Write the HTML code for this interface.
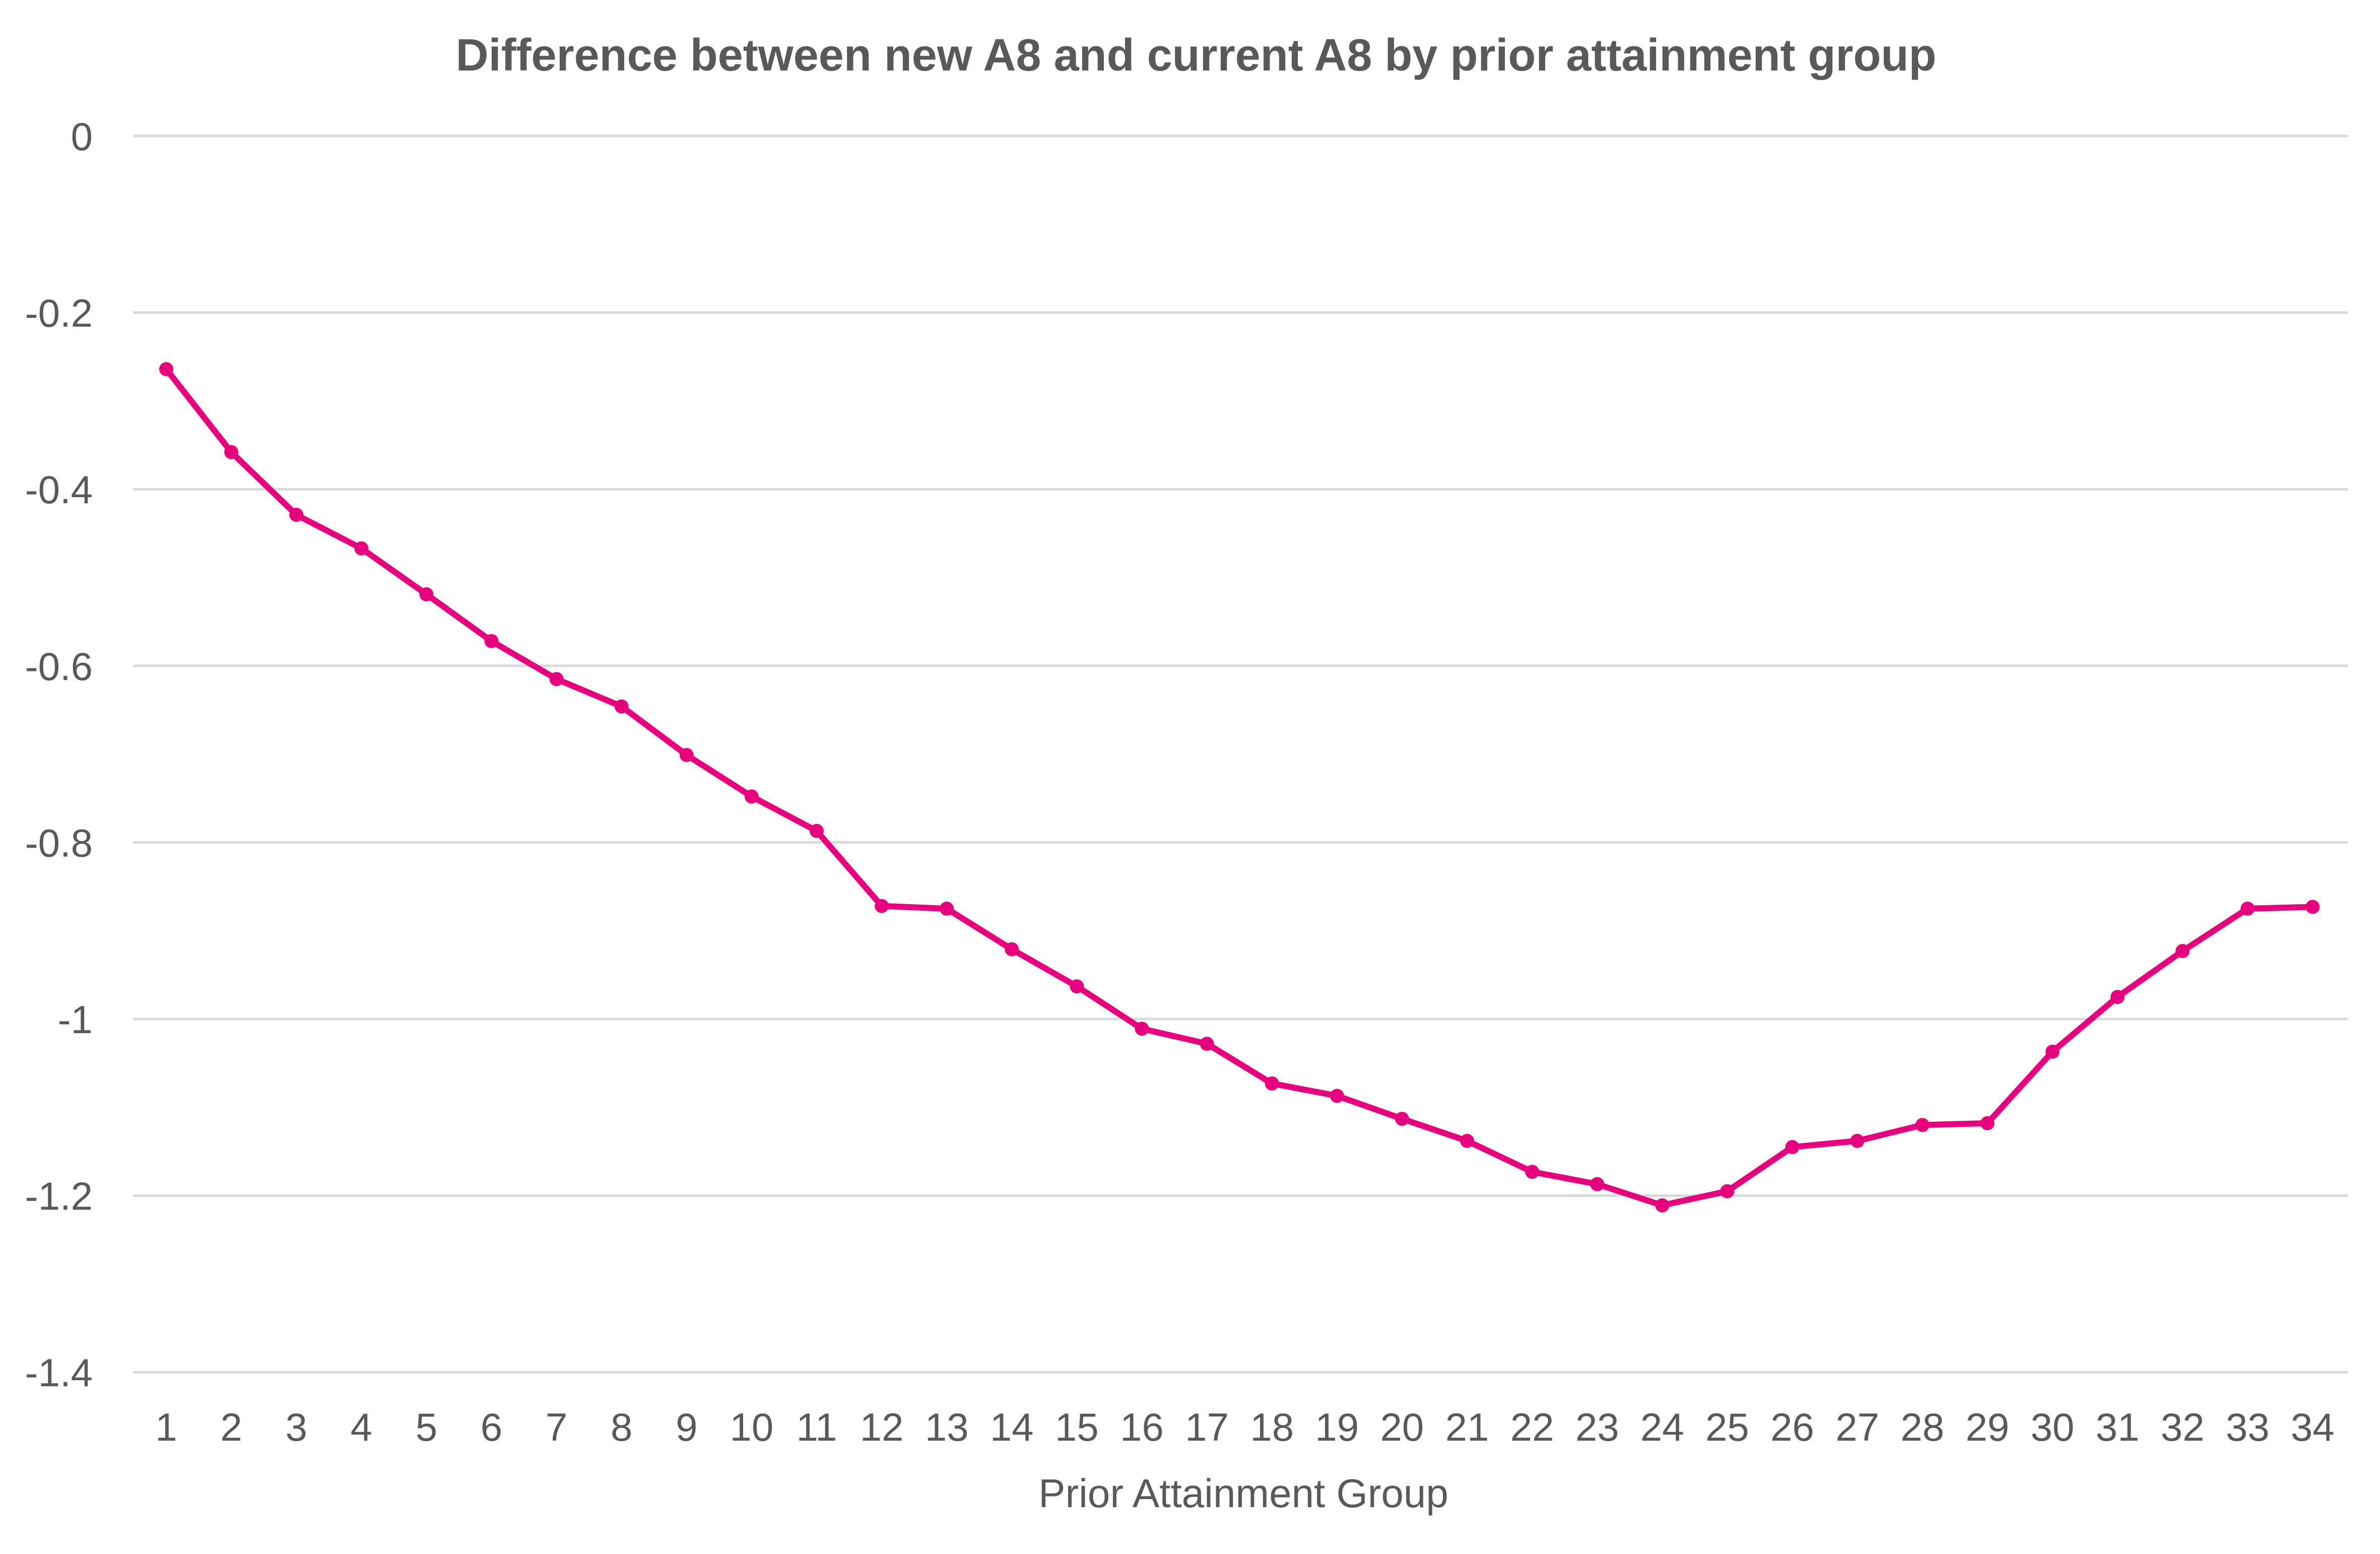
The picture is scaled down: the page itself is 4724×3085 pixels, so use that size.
<!DOCTYPE html>
<html><head><meta charset="utf-8"><style>
html,body{margin:0;padding:0;background:#fff;}
svg{display:block;}
text{font-family:"Liberation Sans",sans-serif;fill:#595959;}
</style></head><body>
<svg id="c" width="4724" height="3085" xmlns="http://www.w3.org/2000/svg">
<rect width="4724" height="3085" fill="#fff"/>
<text x="2374" y="140" font-size="90" font-weight="bold" text-anchor="middle">Difference between new A8 and current A8 by prior attainment group</text>
<text x="2468" y="2992" font-size="80" text-anchor="middle">Prior Attainment Group</text>
<g id="g"></g>
</svg>
<script>
var v=[-0.264,-0.358,-0.429,-0.467,-0.519,-0.572,-0.615,-0.646,-0.701,-0.748,-0.787,-0.872,-0.875,-0.921,-0.963,-1.011,-1.028,-1.073,-1.087,-1.113,-1.138,-1.173,-1.187,-1.211,-1.195,-1.145,-1.138,-1.120,-1.118,-1.037,-0.975,-0.923,-0.875,-0.873];
var ns="http://www.w3.org/2000/svg",g=document.getElementById("g");
function el(n,a,t){var e=document.createElementNS(ns,n);for(var k in a)e.setAttribute(k,a[k]);if(t!=null)e.textContent=t;g.appendChild(e);return e;}
var labs=["0","-0.2","-0.4","-0.6","-0.8","-1","-1.2","-1.4"];
for(var i=0;i<8;i++){var y=270+i*350.6;
el("line",{x1:264,x2:4660,y1:y,y2:y,stroke:"#d9d9d9","stroke-width":5});
el("text",{x:184,y:y+28,"font-size":78,"text-anchor":"end"},labs[i]);}
var pts=[];
for(var i=0;i<34;i++){var x=330+i*129.1;
el("text",{x:x,y:2860,"font-size":78,"text-anchor":"middle"},String(i+1));
pts.push(x+","+(270-v[i]*1753));}
el("polyline",{points:pts.join(" "),fill:"none",stroke:"#E6007E","stroke-width":12,"stroke-linejoin":"round"});
for(var i=0;i<34;i++){var p=pts[i].split(",");el("circle",{cx:p[0],cy:p[1],r:14,fill:"#E6007E"});}
</script>
</body></html>
